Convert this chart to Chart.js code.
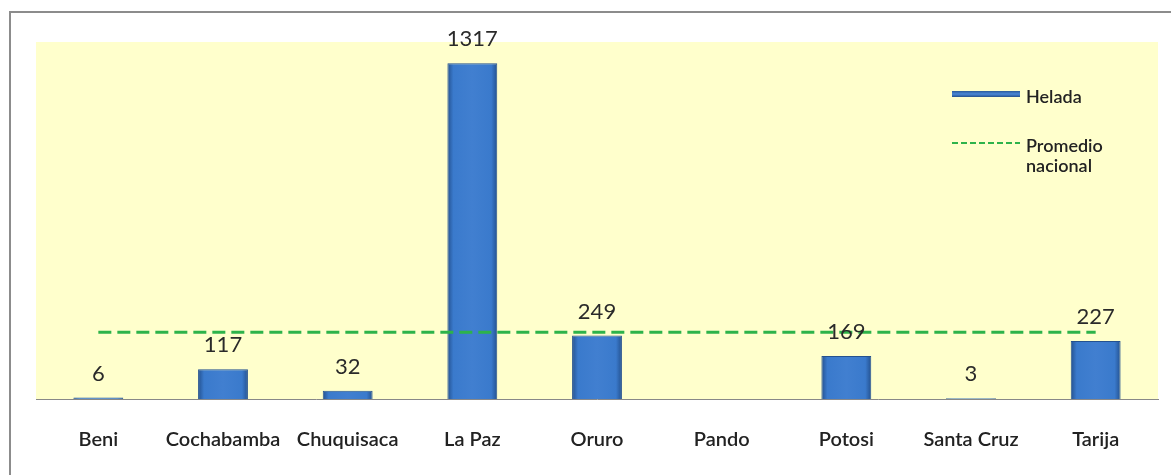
<!DOCTYPE html>
<html>
<head>
<meta charset="utf-8">
<script src="https://cdn.jsdelivr.net/npm/chart.js@4"></script>
<style>
  html, body { margin: 0; padding: 0; background: #fff; }
  #wrap { position: relative; width: 1171px; height: 475px; overflow: hidden; }
  #frame {
    position: absolute; left: 9px; top: 11px; width: 1200px; height: 500px;
    border-left: 2px solid #8c8c8c; border-top: 2px solid #8c8c8c;
  }
  canvas { position: absolute; left: 0; top: 0; }
</style>
</head>
<body>
<div id="wrap">
  <div id="frame"></div>
  <canvas id="chart" width="1171" height="475"></canvas>
</div>
<script>
// ===============================
// DATA
// ===============================
const departamentos = ["Beni", "Cochabamba", "Chuquisaca", "La Paz", "Oruro", "Pando", "Potosi", "Santa Cruz", "Tarija"];
const helada = [6, 117, 32, 1317, 249, null, 169, 3, 227];
const promedioNacional = [262, 262, 262, 262, 262, 262, 262, 262, 262];
const yMax = 1400;

const BAR_PCT = 0.4;

function barFill(ctx) {
  const chart = ctx.chart;
  const xs = chart.scales.x;
  if (!xs || !chart.chartArea) return "#3a78c8";
  const cx = xs.getPixelForValue(ctx.dataIndex);
  const w = xs.width / departamentos.length * BAR_PCT;
  const g = chart.ctx.createLinearGradient(cx - w / 2, 0, cx + w / 2, 0);
  g.addColorStop(0, "#24518f");
  g.addColorStop(0.12, "#3a7acc");
  g.addColorStop(0.5, "#417fd0");
  g.addColorStop(0.88, "#3a7acc");
  g.addColorStop(1, "#24518f");
  return g;
}

// yellow plot area
const plotBackground = {
  id: "plotBackground",
  beforeDraw(chart) {
    const { ctx, chartArea: a } = chart;
    ctx.save();
    ctx.fillStyle = "#ffffcc";
    ctx.fillRect(a.left, a.top, a.right - a.left, a.bottom - a.top);
    ctx.restore();
  }
};

// value labels above bars
const valueLabels = {
  id: "valueLabels",
  afterDatasetsDraw(chart) {
    const ctx = chart.ctx;
    const meta = chart.getDatasetMeta(0);
    ctx.save();
    ctx.font = "22px Lato";
    ctx.fillStyle = "#2a2a2a";
    ctx.textAlign = "center";
    ctx.textBaseline = "middle";
    meta.data.forEach((bar, i) => {
      if (helada[i] == null) return;
      ctx.fillText(String(helada[i]), bar.x, bar.y - 24);
    });
    ctx.restore();
  }
};

// legend in the top right corner of the plot
const cornerLegend = {
  id: "cornerLegend",
  afterDraw(chart) {
    const ctx = chart.ctx;
    const x0 = 952, x1 = 1020;
    ctx.save();
    // bar swatch
    const g = ctx.createLinearGradient(0, 91, 0, 97);
    g.addColorStop(0, "#2a5a9c");
    g.addColorStop(0.5, "#4a88d6");
    g.addColorStop(1, "#24518f");
    ctx.fillStyle = g;
    ctx.fillRect(x0, 91, x1 - x0, 6);
    // dashed swatch
    ctx.strokeStyle = "#2db34a";
    ctx.lineWidth = 2;
    ctx.setLineDash([6, 3]);
    ctx.beginPath();
    ctx.moveTo(x0, 143);
    ctx.lineTo(x1, 143);
    ctx.stroke();
    ctx.setLineDash([]);
    ctx.font = "600 18px Lato";
    ctx.fillStyle = "#222";
    ctx.textAlign = "left";
    ctx.textBaseline = "middle";
    ctx.fillText(chart.data.datasets[0].label, 1026, 97);
    ctx.fillText("Promedio", 1026, 146);
    ctx.fillText("nacional", 1026, 166);
    ctx.restore();
  }
};

new Chart(document.getElementById("chart"), {
  type: "bar",
  data: {
    labels: departamentos,
    datasets: [
      {
        label: "Helada",
        data: helada,
        backgroundColor: barFill,
        borderColor: "#24518f",
        borderWidth: 1,
        barPercentage: BAR_PCT,
        categoryPercentage: 1,
        order: 1
      },
      {
        type: "line",
        label: "Promedio nacional",
        data: promedioNacional,
        borderColor: "#2db34a",
        borderWidth: 3,
        borderDash: [13, 6],
        pointRadius: 0,
        fill: false,
        order: 0
      }
    ]
  },
  options: {
    responsive: false,
    animation: false,
    layout: { padding: { left: 36, top: 42, right: 13, bottom: 0 } },
    plugins: {
      legend: { display: false },
      tooltip: { enabled: false }
    },
    scales: {
      x: {
        grid: { display: false, drawTicks: false },
        border: { display: true, color: "#888", width: 1 },
        ticks: {
          color: "#222",
          font: { family: "Lato", size: 20, weight: "600" },
          padding: 29,
          maxRotation: 0,
          autoSkip: false
        },
        afterFit(scale) { scale.height = 76; }
      },
      y: {
        display: false,
        min: 0,
        max: yMax
      }
    }
  },
  plugins: [plotBackground, valueLabels, cornerLegend]
});
</script>
</body>
</html>
